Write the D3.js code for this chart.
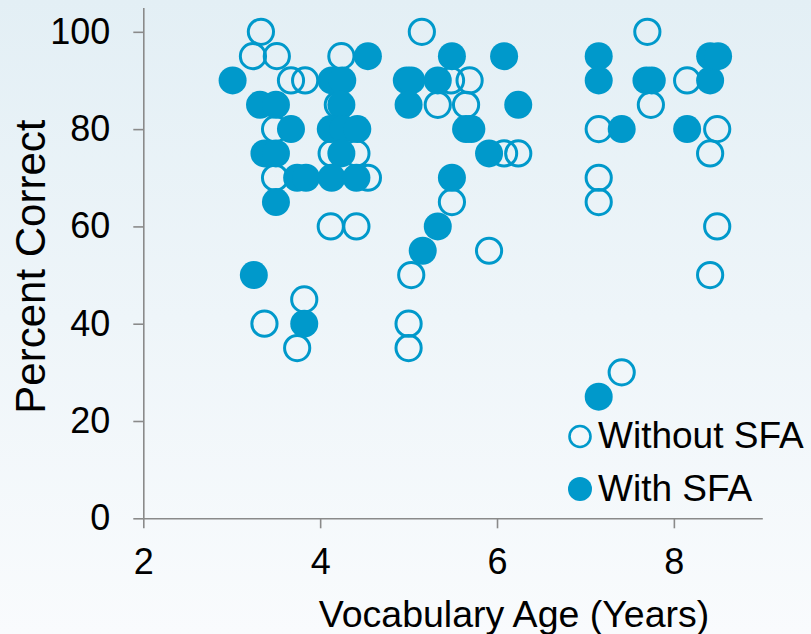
<!DOCTYPE html>
<html>
  <head>
    <meta charset="UTF-8">
    <title>Vocabulary Age vs Percent Correct</title>
    <style>
      body { margin: 0; }
      text { font-family: 'Liberation Sans', Arial, sans-serif; fill: #000; }
    </style>
  </head>
  <body>
    <div id='chart'></div>
    <script src='https://d3js.org/d3.v7.min.js'></script>
    <script>
      // Without SFA (open circles)
      const withoutAge = [3.33, 3.24, 3.51, 3.67, 3.83, 3.49, 3.49, 4.24, 4.20, 4.13, 4.41, 4.54, 4.12, 4.41,
        3.82, 3.37, 3.74, 5.15, 5.48, 5.69, 5.33, 5.65, 6.08, 6.24, 5.49, 5.91, 5.03, 5.00, 5.00,
        7.70, 7.74, 8.15, 7.15, 8.49, 8.41, 7.15, 7.15, 8.49, 8.41, 7.41];
      const withoutPct = [100, 95, 95, 90, 90, 80, 70, 95, 85, 75, 75, 70, 60, 60,
        45, 40, 35, 100, 90, 90, 85, 85, 75, 75, 65, 55, 50, 40, 35,
        100, 85, 90, 80, 80, 75, 70, 65, 60, 50, 30];

      // With SFA (filled circles)
      const withAge = [3.01, 3.32, 3.50, 3.67, 3.37, 3.50, 3.74, 3.84, 3.50, 3.25, 3.82, 4.54, 4.13, 4.25,
        4.24, 4.12, 4.26, 4.42, 4.24, 4.13, 4.41, 4.98, 5.03, 5.00, 5.33, 5.49, 6.08, 6.24, 5.65,
        5.71, 5.91, 5.49, 5.33, 5.16, 7.15, 7.15, 7.69, 7.75, 7.41, 8.15, 8.41, 8.41, 8.50, 7.15];
      const withPct = [90, 85, 85, 80, 75, 75, 70, 70, 65, 50, 40, 95, 90, 90,
        85, 80, 80, 80, 75, 70, 70, 90, 90, 85, 90, 95, 95, 85, 80,
        80, 75, 70, 60, 55, 95, 90, 90, 90, 80, 80, 90, 95, 95, 25];

      const xTicks = [2, 4, 6, 8];
      const yTicks = [0, 20, 40, 60, 80, 100];
      const seriesNames = ['Without SFA', 'With SFA'];

      const width = 811;
      const height = 634;
      const blue = '#0099cb';
      const axisGray = '#8a8a8a';

      const svg = d3.select('#chart')
        .append('svg')
        .attr('width', width)
        .attr('height', height);

      const grad = svg.append('defs')
        .append('linearGradient')
        .attr('id', 'bg')
        .attr('x1', 0).attr('y1', 0)
        .attr('x2', 0).attr('y2', 1);
      grad.append('stop').attr('offset', '0%').attr('stop-color', '#e3eff5');
      grad.append('stop').attr('offset', '100%').attr('stop-color', '#f9fbfd');

      svg.append('rect')
        .attr('width', width)
        .attr('height', height)
        .attr('fill', 'url(#bg)');

      const x = d3.scaleLinear()
        .domain([2, 9])
        .range([143.3, 762.3]);

      const y = d3.scaleLinear()
        .domain([0, 105])
        .range([518.3, 7.5]);

      // axes
      const yAxis = svg.append('g')
        .attr('transform', `translate(${x(2)},0)`)
        .call(d3.axisLeft(y)
          .tickValues(yTicks)
          .tickFormat(d3.format('d'))
          .tickSize(10)
          .tickSizeOuter(0)
          .tickPadding(23));

      const xAxis = svg.append('g')
        .attr('transform', `translate(0,${y(0)})`)
        .call(d3.axisBottom(x)
          .tickValues(xTicks)
          .tickFormat(d3.format('d'))
          .tickSize(10)
          .tickSizeOuter(0)
          .tickPadding(20));

      [xAxis, yAxis].forEach((g) => {
        g.selectAll('path, line')
          .attr('stroke', axisGray)
          .attr('stroke-width', 1.6);
        g.selectAll('text')
          .attr('font-size', 36)
          .attr('font-family', "'Liberation Sans', Arial, sans-serif")
          .attr('fill', '#000');
      });

      // points
      const without = withoutAge.map((a, i) => ({ age: a, pct: withoutPct[i] }));
      const withS = withAge.map((a, i) => ({ age: a, pct: withPct[i] }));

      svg.append('g')
        .selectAll('circle')
        .data(without)
        .enter().append('circle')
        .attr('cx', (d) => x(d.age))
        .attr('cy', (d) => y(d.pct))
        .attr('r', 12.6)
        .attr('fill', 'none')
        .attr('stroke', blue)
        .attr('stroke-width', 3);

      svg.append('g')
        .selectAll('circle')
        .data(withS)
        .enter().append('circle')
        .attr('cx', (d) => x(d.age))
        .attr('cy', (d) => y(d.pct))
        .attr('r', 14)
        .attr('fill', blue);

      // legend
      const legend = svg.append('g');
      legend.append('circle')
        .attr('cx', 580).attr('cy', 436.5)
        .attr('r', 10.5)
        .attr('fill', 'none')
        .attr('stroke', blue)
        .attr('stroke-width', 2.6);
      legend.append('circle')
        .attr('cx', 580).attr('cy', 489)
        .attr('r', 12)
        .attr('fill', blue);
      legend.selectAll('text')
        .data(seriesNames)
        .enter().append('text')
        .attr('x', 598)
        .attr('y', (d, i) => 448 + i * 53)
        .attr('font-size', 37)
        .text((d) => d);

      // axis titles
      svg.append('text')
        .attr('x', 514)
        .attr('y', 627)
        .attr('text-anchor', 'middle')
        .attr('font-size', 37.5)
        .text('Vocabulary Age (Years)');

      svg.append('text')
        .attr('transform', 'translate(45,266.6) rotate(-90)')
        .attr('text-anchor', 'middle')
        .attr('font-size', 42)
        .text('Percent Correct');
    </script>
  </body>
</html>
